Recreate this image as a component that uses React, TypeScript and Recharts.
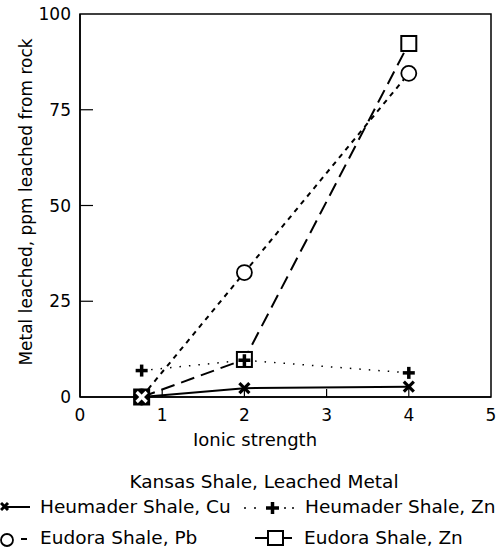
import React from 'react';
import { LineChart, Line, XAxis, YAxis, ReferenceArea, Label } from 'recharts';

const ionicStrength = [0.75, 2, 4];
const heumaderCu = [0, 2.3, 2.7];
const heumaderZn = [6.9, 9.6, 6.3];
const eudoraPb = [0, 32.5, 84.5];
const eudoraZn = [0, 9.8, 92.3];
const xTicks = [0, 1, 2, 3, 4, 5];
const yTicks = [0, 25, 50, 75, 100];

const data = ionicStrength.map((x, i) => ({
  x,
  cu: heumaderCu[i],
  hzn: heumaderZn[i],
  pb: eudoraPb[i],
  ezn: eudoraZn[i],
}));

const FONT = 'DejaVu Sans, sans-serif';

const isFirst = (props: any) => props && props.payload && props.payload.x === ionicStrength[0];

const XTick = (props: any) => {
  const { x, y, payload } = props;
  const v = payload.value;
  return (
    <g>
      {v !== 0 && v !== 5 && <line x1={x} x2={x} y1={y} y2={y - 8} stroke="#000" strokeWidth={1.2} />}
      <text x={x} y={y + 24} textAnchor="middle" fontSize={17} fontFamily={FONT} fill="#000">
        {v}
      </text>
    </g>
  );
};

const YTick = (props: any) => {
  const { x, y, payload } = props;
  const v = payload.value;
  return (
    <g>
      {v !== 0 && v !== 100 && <line x1={x} x2={x + 13} y1={y} y2={y} stroke="#000" strokeWidth={1.2} />}
      <text x={x - 9} y={y + 6} textAnchor="end" fontSize={17} fontFamily={FONT} fill="#000">
        {v}
      </text>
    </g>
  );
};

const CrossDot = (props: any) => {
  const { cx, cy } = props;
  if (cx == null || cy == null) return null;
  const s = 5;
  const c = isFirst(props) ? '#fff' : '#000';
  return (
    <g>
      <line x1={cx - s} y1={cy - s} x2={cx + s} y2={cy + s} stroke={c} strokeWidth={3.2} />
      <line x1={cx - s} y1={cy + s} x2={cx + s} y2={cy - s} stroke={c} strokeWidth={3.2} />
    </g>
  );
};

const PlusDot = (props: any) => {
  const { cx, cy } = props;
  if (cx == null || cy == null) return null;
  const s = 6;
  return (
    <g>
      <line x1={cx - s} y1={cy} x2={cx + s} y2={cy} stroke="#000" strokeWidth={3.5} />
      <line x1={cx} y1={cy - s} x2={cx} y2={cy + s} stroke="#000" strokeWidth={3.5} />
    </g>
  );
};

const CircleDot = (props: any) => {
  const { cx, cy } = props;
  if (cx == null || cy == null) return null;
  return <circle cx={cx} cy={cy} r={7.5} fill="#fff" stroke="#000" strokeWidth={1.8} />;
};

const SquareDot = (props: any) => {
  const { cx, cy } = props;
  if (cx == null || cy == null) return null;
  const s = 7.5;
  return (
    <rect
      x={cx - s}
      y={cy - s}
      width={2 * s}
      height={2 * s}
      fill={isFirst(props) ? '#000' : '#fff'}
      stroke="#000"
      strokeWidth={2}
    />
  );
};

const YLabel = () => {
  const cx = 26;
  const cy = 202;
  return (
    <text
      x={cx}
      y={cy}
      transform={`rotate(-90 ${cx} ${cy})`}
      textAnchor="middle"
      dominantBaseline="central"
      fontSize={17}
      fontFamily={FONT}
      fill="#000"
    >
      Metal leached, ppm leached from rock
    </text>
  );
};

const XLabel = () => (
  <text x={255} y={446} textAnchor="middle" fontSize={18} fontFamily={FONT} fill="#000">
    Ionic strength
  </text>
);

const LegendOverlay = () => {
  const fs = 18.5;
  return (
    <svg
      width={501}
      height={548}
      style={{ position: 'absolute', left: 0, top: 0, pointerEvents: 'none' }}
    >
      <g fontFamily={FONT} fontSize={fs} fill="#000">
        <text x={264} y={488} textAnchor="middle">Kansas Shale, Leached Metal</text>
        <line x1={1} y1={503} x2={8} y2={510} stroke="#000" strokeWidth={3} />
        <line x1={1} y1={510} x2={8} y2={503} stroke="#000" strokeWidth={3} />
        <line x1={6} y1={507} x2={30} y2={507} stroke="#000" strokeWidth={2} />
        <text x={40} y={513}>Heumader Shale, Cu</text>
        {[245, 255, 285, 293].map((dx) => (
          <circle key={dx} cx={dx} cy={508} r={1} fill="#000" />
        ))}
        <line x1={266} y1={508} x2={279} y2={508} stroke="#000" strokeWidth={3.5} />
        <line x1={272.5} y1={502} x2={272.5} y2={514} stroke="#000" strokeWidth={3.5} />
        <text x={305} y={513}>Heumader Shale, Zn</text>
        <circle cx={7} cy={540} r={6} fill="none" stroke="#000" strokeWidth={1.8} />
        <line x1={21} y1={539} x2={27} y2={539} stroke="#000" strokeWidth={2} />
        <text x={40} y={544}>Eudora Shale, Pb</text>
        <line x1={255} y1={538} x2={292} y2={538} stroke="#000" strokeWidth={2} />
        <rect x={268} y={531} width={15} height={14} fill="#fff" stroke="#000" strokeWidth={2} />
        <text x={304} y={544}>Eudora Shale, Zn</text>
      </g>
    </svg>
  );
};

export default function App() {
  return (
    <div style={{ position: 'absolute', left: 0, top: 0, width: 501, height: 548, background: '#fff' }}>
      <LineChart
        width={501}
        height={548}
        data={data}
        margin={{ top: 14, right: 10, left: 0, bottom: 101 }}
      >
        <XAxis
          type="number"
          dataKey="x"
          domain={[0, 5]}
          ticks={xTicks}
          tickLine={false}
          tickSize={0}
          tickMargin={0}
          tick={<XTick />}
          axisLine={{ stroke: '#000', strokeWidth: 1.5 }}
          height={50}
          interval={0}
        >
          <Label content={<XLabel />} />
        </XAxis>
        <YAxis
          type="number"
          domain={[0, 100]}
          ticks={yTicks}
          tickLine={false}
          tickSize={0}
          tickMargin={0}
          tick={<YTick />}
          axisLine={{ stroke: '#000', strokeWidth: 1.5 }}
          width={80}
          interval={0}
        >
          <Label content={<YLabel />} />
        </YAxis>
        <ReferenceArea x1={0} x2={5} y1={0} y2={100} fill="none" stroke="#000" strokeWidth={1.5} ifOverflow="visible" />
        <Line
          dataKey="pb"
          stroke="#000"
          strokeWidth={2}
          strokeDasharray="5 5"
          dot={<CircleDot />}
          activeDot={false}
          isAnimationActive={false}
        />
        <Line
          dataKey="ezn"
          stroke="#000"
          strokeWidth={2}
          strokeDasharray="14 7"
          dot={<SquareDot />}
          activeDot={false}
          isAnimationActive={false}
        />
        <Line
          dataKey="hzn"
          stroke="#000"
          strokeWidth={1.5}
          strokeDasharray="1.5 8"
          dot={<PlusDot />}
          activeDot={false}
          isAnimationActive={false}
        />
        <Line
          dataKey="cu"
          stroke="#000"
          strokeWidth={2}
          dot={<CrossDot />}
          activeDot={false}
          isAnimationActive={false}
        />
      </LineChart>
      <LegendOverlay />
    </div>
  );
}
